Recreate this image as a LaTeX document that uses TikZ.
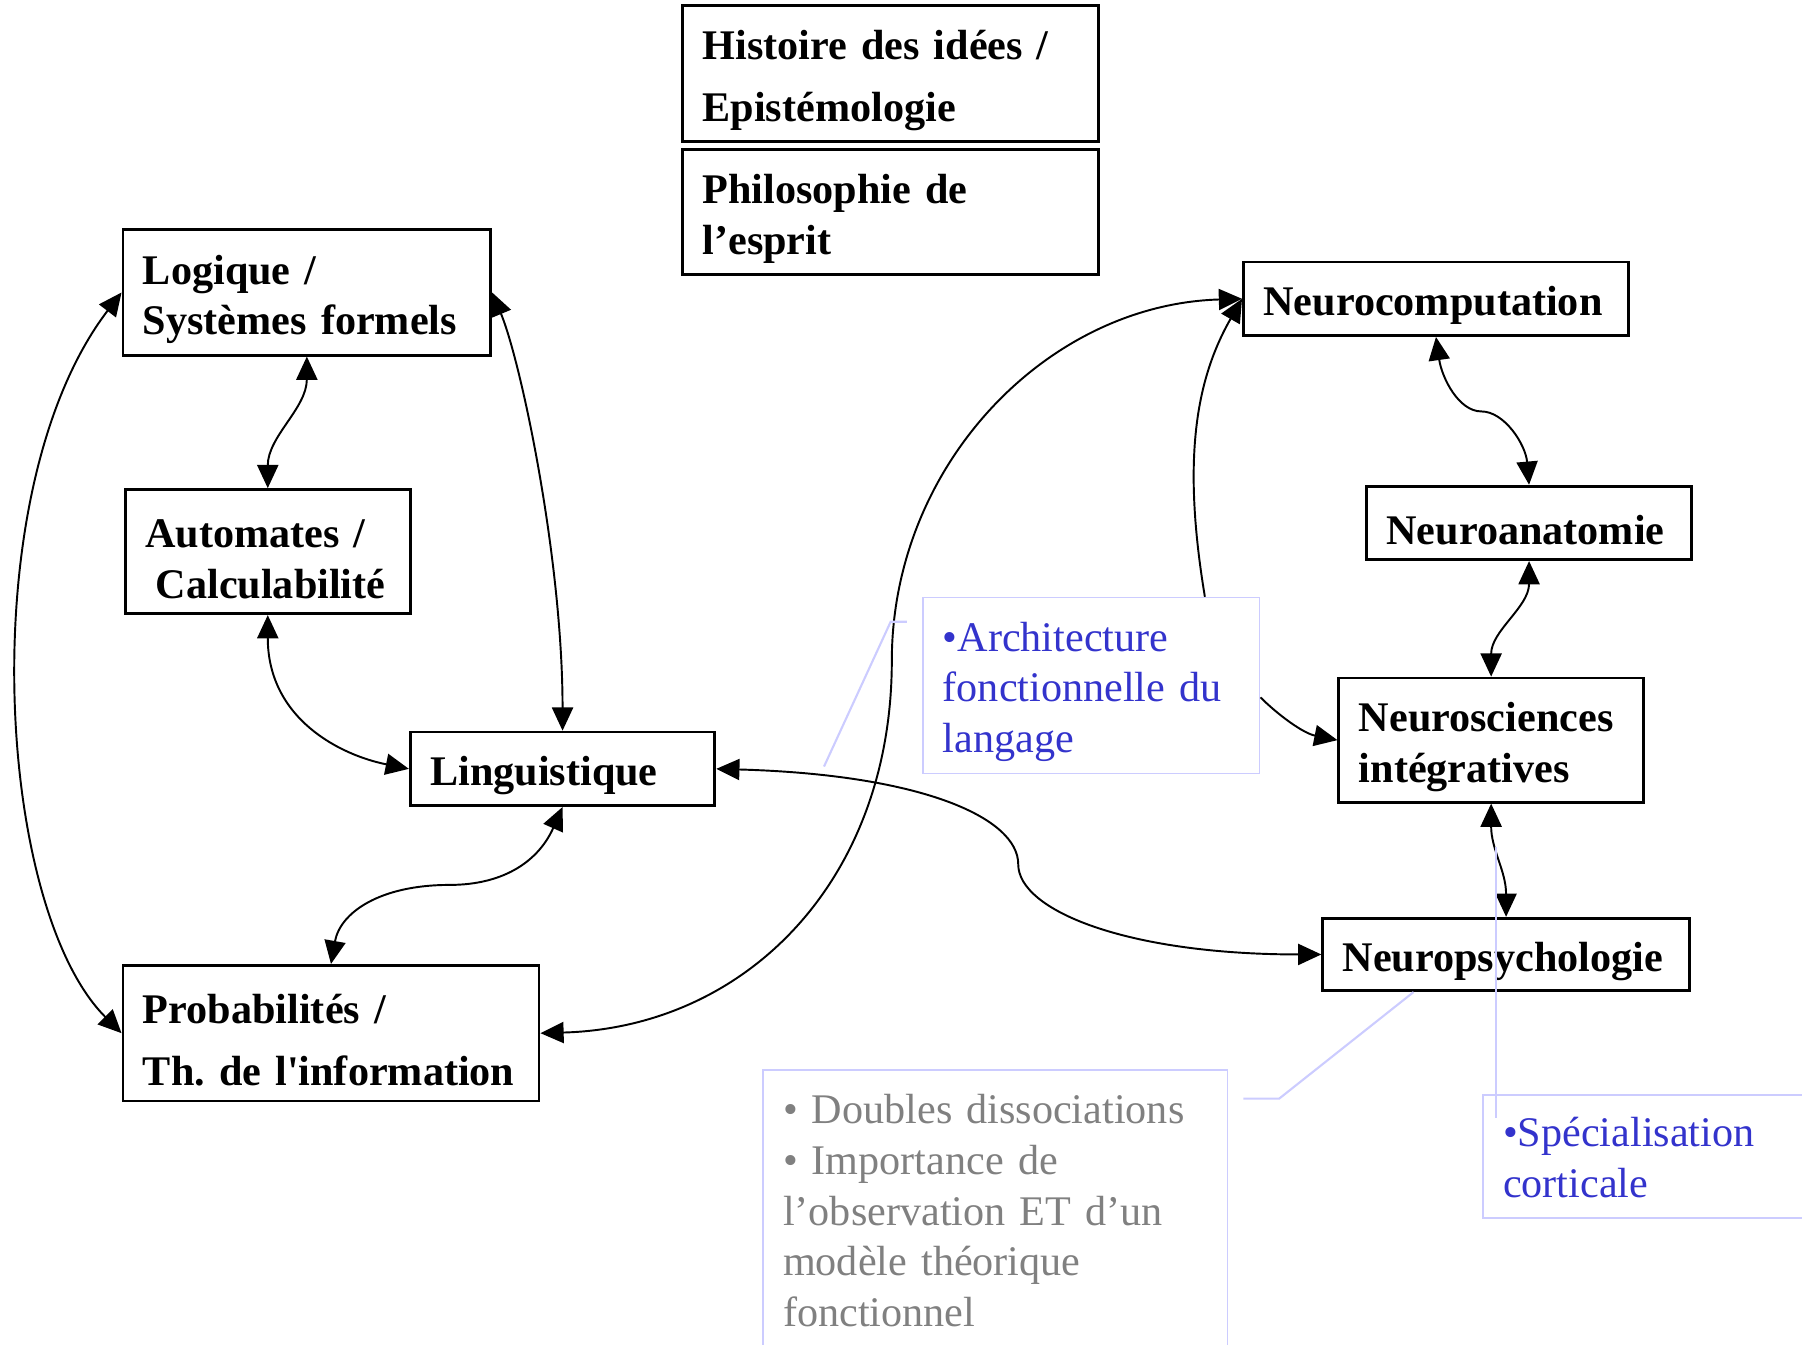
\documentclass[tikz,border=0pt]{standalone}
\usepackage{fontspec}
\setmainfont{Liberation Serif}[Ligatures=TeXOff]
\usetikzlibrary{arrows.meta}
\definecolor{lav}{RGB}{204,204,255}
\definecolor{archblue}{RGB}{51,51,204}
\definecolor{notegray}{RGB}{128,128,128}
\begin{document}
\begin{tikzpicture}[x=0.011492cm,y=-0.011492cm,>={Triangle[length=6.6pt,width=6pt]},
  box/.style={draw,line width=0.8pt,align=left,inner xsep=0.2cm,inner ysep=0pt,text height=12.3pt,font=\fontsize{12}{14.4}\selectfont\bfseries\frenchspacing},
  note/.style={draw=lav,line width=0.5pt,align=left,inner xsep=0.2cm,inner ysep=0pt,font=\fontsize{12}{14.4}\selectfont\frenchspacing},
  link/.style={<->,line width=0.55pt},
  callout/.style={lav,line width=0.6pt}]
\useasboundingbox (0,0) rectangle (1568,1170);
\clip (0,0) rectangle (1568,1170);
\node[box,text width=3.76cm,minimum height=1.356cm] (hist) at (775,64) {Histoire des idées /\\[3pt]Epistémologie};
\node[box,text width=3.76cm,minimum height=1.253cm] (philo) at (775,184.5) {Philosophie de\\l’esprit};
\node[box,text width=3.277cm,minimum height=1.253cm] (logic) at (267,254.5) {Logique /\\Systèmes formels};
\node[box,text width=2.45cm,minimum height=1.241cm] (auto) at (233,480) {Automates /\\\hspace*{3pt}Calculabilité};
\node[box,text width=2.645cm,minimum height=0.735cm] (ling) at (489.5,669) {Linguistique};
\node[box,text width=3.76cm,minimum height=1.356cm] (prob) at (288,899) {Probabilités /\\[3pt]\mbox{Th. de l'information}};
\node[box,text width=3.45cm,minimum height=0.735cm] (ncomp) at (1249.5,260) {Neurocomputation};
\node[box,text width=2.852cm,minimum height=0.735cm] (nanat) at (1330.5,455) {Neuroanatomie};
\node[box,text width=2.645cm,minimum height=1.241cm] (nsci) at (1297.5,644) {Neurosciences\\intégratives};
\node[box,text width=3.266cm,minimum height=0.724cm] (npsy) at (1310.5,830.5) {Neuropsychologie};
\node[note,text=archblue,text width=2.967cm,minimum height=1.758cm,text height=11.8pt] (arch) at (949.5,596.5) {•Architecture\\fonctionnelle du\\langage};
\node[note,text=notegray,text width=4.243cm,minimum height=2.816cm] (dbl) at (866,1053.5) {• Doubles dissociations\\• Importance de\\l’observation ET d’un\\modèle théorique\\fonctionnel};
\node[note,text=archblue,text width=3.163cm,minimum height=1.23cm,text height=9.3pt] (spec) at (1445.5,1006) {•Spécialisation\\corticale};
% formal side
\draw[link] (logic.south) .. controls +(0,45) and +(0,-45) .. (auto.north);
\draw[link] (logic.west) .. controls +(-130,170) and +(-110,-110) .. (prob.west);
\draw[link] (logic.east) .. controls +(25,60) and +(0,-150) .. (ling.north);
\draw[link] (auto.south) .. controls +(0,90) and +(-60,-12) .. (ling.west);
\draw[link] (ling.south) .. controls +(-20,45) and +(50,0) .. (391,770) .. controls +(-60,0) and +(8,-45) .. (prob.north);
% across
\draw[link] (ling.east) .. controls +(180,5) and +(0,-40) .. (886,752) .. controls +(0,40) and +(-170,0) .. (npsy.west);
\draw[link] (prob.east) .. controls +(180,-5) and +(0,190) .. (776,575) .. controls +(0,-170) and +(-170,5) .. (ncomp.west);
\draw[->,line width=0.55pt] (arch.38) .. controls +(-20,-120) and +(-40,70) .. (ncomp.west);
\draw[->,line width=0.55pt] (arch.-4) .. controls +(15,15) and +(-30,-6) .. (nsci.west);
% neuro side
\draw[link] (ncomp.south) .. controls +(5,35) and +(-20,0) .. (1289,358) .. controls +(20,0) and +(-3,-35) .. (nanat.north);
\draw[link] (nanat.south) .. controls +(0,40) and +(0,-40) .. (nsci.north);
\draw[link] (nsci.south) .. controls +(0,40) and +(0,-40) .. (npsy.north);
% callouts
\coordinate (archpt) at (717,667);
\coordinate (archend) at (789,541);
\draw[callout] (archend) -- (775,541) -- (archpt);
\coordinate (dblend) at (1082,956);
\draw[callout] (dblend) -- (1113,956) -- ([xshift=-0.925cm]npsy.south);
\coordinate (specpt) at (1302,737);
\coordinate (specend) at (1302,973);
\draw[callout] (specpt) -- (specend);
\end{tikzpicture}
\end{document}
